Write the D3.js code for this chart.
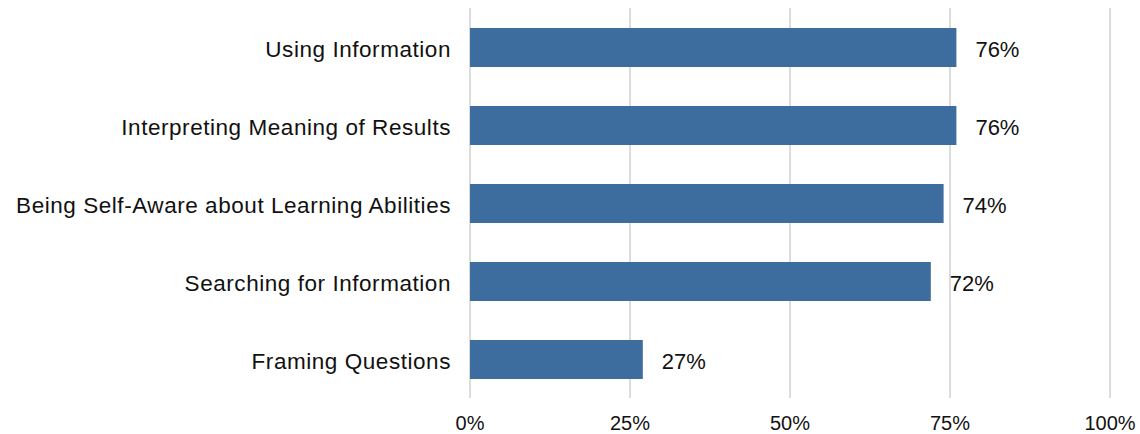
<!DOCTYPE html>
<html><head><meta charset="utf-8">
<script src="https://cdn.jsdelivr.net/npm/d3@7"></script>
<style>body{margin:0;background:#fff}svg{display:block}text{font-family:"Liberation Sans",Arial,Helvetica,sans-serif;fill:#111}</style>
</head><body>
<svg id="chart" width="1140" height="434"></svg>
<script>
const categories = ["Using Information","Interpreting Meaning of Results","Being Self-Aware about Learning Abilities","Searching for Information","Framing Questions"];
const values = [76,76,74,72,27];
const ticks = [0,25,50,75,100];

const svg = d3.select("#chart");
const x = d3.scaleLinear().domain([0,100]).range([470,1110]);
const y = d3.scaleBand().domain(categories).range([8.5,398.5]).paddingInner(0.5).paddingOuter(0.25);

svg.append("g").selectAll("line").data(ticks).join("line")
  .attr("x1",d=>x(d)).attr("x2",d=>x(d)).attr("y1",8).attr("y2",398)
  .attr("stroke","#dcdcdc").attr("stroke-width",2);

svg.append("g").selectAll("rect").data(values).join("rect")
  .attr("x",x(0)).attr("y",(d,i)=>y(categories[i]))
  .attr("width",d=>x(d)-x(0)).attr("height",y.bandwidth())
  .attr("fill","#3d6d9e");

svg.append("g").selectAll("text").data(values).join("text")
  .attr("x",d=>x(d)+19).attr("y",(d,i)=>y(categories[i])+y.bandwidth()/2)
  .attr("dy","0.42em").attr("font-size",22).text(d=>d+"%");

svg.append("g").selectAll("text").data(categories).join("text")
  .attr("x",451).attr("y",d=>y(d)+y.bandwidth()/2).attr("dy","0.42em")
  .attr("text-anchor","end").attr("font-size",22.5).attr("letter-spacing","0.55px").text(d=>d);

svg.append("g").selectAll("text").data(ticks).join("text")
  .attr("x",d=>x(d)).attr("y",430).attr("dy","0")
  .attr("text-anchor","middle").attr("font-size",20).text(d=>d+"%");
</script>
</body></html>
